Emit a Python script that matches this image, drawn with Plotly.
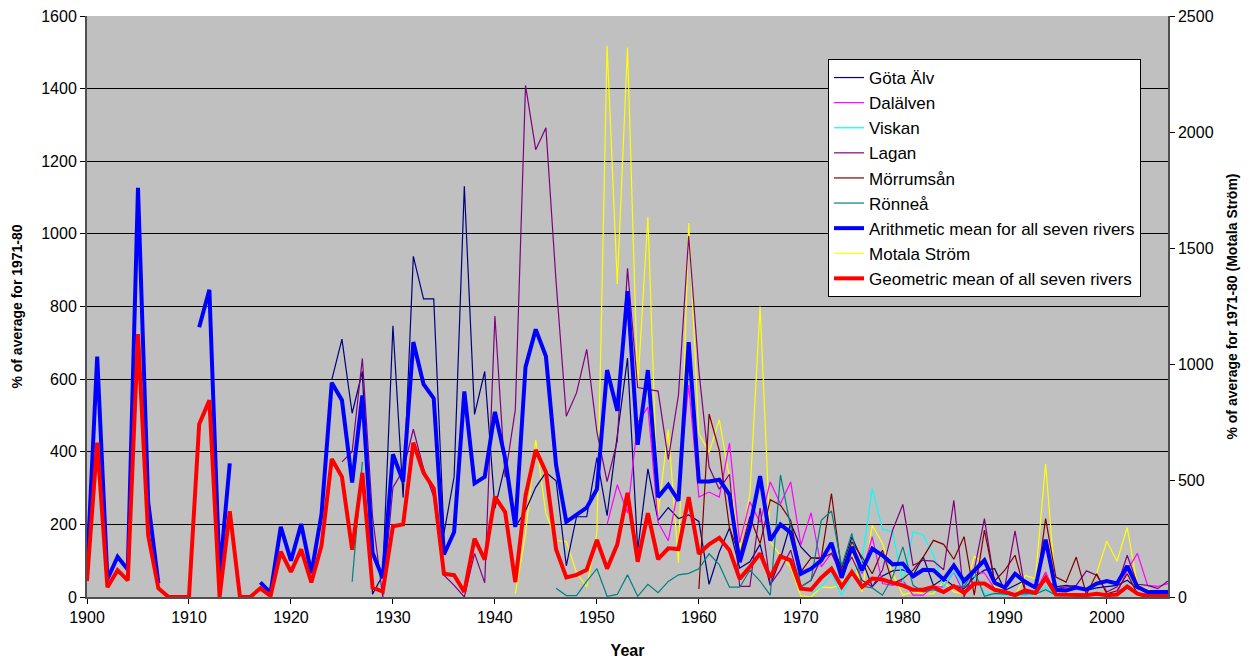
import plotly.graph_objects as go

# Annual runoff-type index, % of the 1971-80 average, 1900-2006
years = list(range(1900, 2007))

arith_mean = [71, 662, 49, 111, 76, 1127, 261, 38, None, None, None, 743, 846, 58, 368, None, None, 40, 11, 193,
              100, 201, 65, 229, 590, 542, 315, 555, 122, 52,
              393, 318, 702, 586, 547, 117, 179, 566, 313, 331,
              510, 382, 193, 633, 737, 663, 363, 207, 226, 246,
              297, 625, 513, 842, 419, 625, 275, 309, 265, 702,
              318, 318, 323, 282, 96, 193, 333, 156, 200, 177,
              64, 78, 101, 149, 53, 138, 74, 133, 115, 90,
              92, 57, 75, 74, 48, 87, 44, 74, 101, 39,
              26, 64, 41, 26, 158, 20, 18, 26, 20, 37,
              44, 37, 85, 28, 14, 14, 14]

geo_mean = [44, 425, 27, 74, 46, 724, 169, 24, 0, 0, 0, 476, 542, 0, 236, 0, 0, 24, 3, 125,
            69, 131, 40, 142, 380, 331, 130, 342, 26, 15,
            195, 200, 425, 342, 299, 64, 60, 14, 161, 103,
            276, 234, 41, 279, 405, 344, 131, 54, 61, 75,
            157, 78, 145, 287, 97, 231, 104, 134, 132, 275,
            119, 145, 163, 129, 50, 83, 120, 53, 112, 101,
            23, 20, 53, 78, 28, 69, 28, 51, 48, 39,
            32, 20, 20, 28, 14, 30, 11, 37, 37, 20,
            14, 5, 18, 11, 53, 7, 7, 7, 5, 9,
            5, 7, 29, 9, 2, 2, 2]

gota_start = 1924
gota = [598, 710, 506, 621, 8, 60,
        747, 274, 938, 821, 821, 175, 331, 1131, 503, 621,
        244, 363, 193, 238, 302, 343, 320, 86, 221, 221,
        384, 224, 445, 658, 129, 353, 211, 246, 216, 226,
        208, 35, 124, 190, 80, 97, 145, 32, 106, 203,
        138, 108, 105, 145, 80, 165, 102, 29, 58, 72,
        75, 60, 110, 32, 51, 30, 23, 55, 74, 78,
        18, 32, 46, 28, 46, 28, 32, 28, 18, 25,
        28, 32, 46, 23, 18, 14, 14]

dal_start = 1951
dal = [200, 309, 231, 480, 523, 206, 155, 300, 584,
       275, 289, 275, 424, 150, 262, 205, 317, 257, 317,
       143, 232, 83, 120, 60, 138, 64, 166, 37, 32,
       46, 5, 5, 28, 28, 69, 9, 69, 66, 23,
       18, 9, 5, 14, 69, 5, 5, 8, 8, 10,
       8, 10, 74, 120, 32, 29, 37]

visk_start = 1971
visk = [10, 28, 62, 5, 60, 100, 299, 187, 180,
        40, 179, 170, 115, 28, 70, 28, 60, 10, 8,
        5, 5, 5, 8, 28, 3, 3, 5, 3, 3,
        3, 5, 23, 8, 5, 5, 8]

lagan_start = 1925
lagan = [372, 400, 657, 221, 0,
         302, 349, 462, 354, 276, 60, 32, 0, 120, 39,
         774, 330, 516, 1409, 1232, 1292, 867, 498, 562, 682,
         455, 318, 430, 905, 577, 572, 567, 379, 557, 994,
         623, 358, 297, 338, 29, 29, 245, 35, 74, 129,
         28, 46, 106, 120, 64, 110, 46, 28, 74, 184,
         255, 87, 101, 99, 75, 266, 0, 74, 216, 37,
         28, 182, 18, 14, 46, 23, 28, 32, 72, 60,
         14, 28, 115, 35, 32, 23, 44]

morr_start = 1960
morr = [22, 504, 404, 190, 114, 221, 147, 268, 253, 211,
        69, 108, 108, 285, 69, 152, 110, 64, 129, 37,
        50, 74, 110, 156, 145, 104, 166, 5, 184, 44,
        74, 115, 14, 9, 216, 55, 41, 110, 7, 64,
        9, 17, 64, 9, 7, 5, 5]

ronn_start = 1926
ronn = [42, 372, None, None,
        None, None, None, None, None, None, None, None, None, None,
        None, None, None, None, None, None, 24, 4, 4, 43,
        78, 2, 7, 61, 2, 35, 12, 43, 61, 65,
        78, 119, 89, 27, 27, 74, 44, 5, 336, 193,
        28, 46, 211, 237, 85, 175, 30, 25, 5, 56,
        138, 32, 14, 20, 10, 32, 28, 74, 2, 10,
        8, 5, 10, 8, 20, 5, 5, 8, 5, 5,
        5, 8, 25, 8, 5, 5, 5]

motala_start = 1942
motala = [14, 270, 676, 360, 243, 239, 105, 43,
          273, 2372, 1347, 2364, 902, 1636, 361, 722, 146, 1609,
          703, 623, 763, 512, 205, 440, 1250, 240, 176, 130,
          5, 0, 43, 40, 54, 194, 22, 309, 230, 101,
          9, 22, 14, 14, 65, 22, 14, 175, 151, 43,
          36, 3, 93, 79, 572, 26, 22, 14, 11, 101,
          240, 154, 299, 50, 32, 22, 17]


def span(start, values):
    return list(range(start, start + len(values))), values


FONT = "Liberation Sans, Arial, sans-serif"
fig = go.Figure()

# Motala Ström sits on the right-hand axis (drawn first, underneath the rest)
mx, my = span(motala_start, motala)
fig.add_trace(go.Scatter(x=mx, y=my, name="Motala Ström", mode="lines",
                         line=dict(color="#FFFF00", width=1.2), yaxis="y",
                         legendrank=8))

thin = [
    ("Göta Älv", gota_start, gota, "#000080", 1),
    ("Dalälven", dal_start, dal, "#FF00FF", 2),
    ("Viskan", visk_start, visk, "#00FFFF", 3),
    ("Lagan", lagan_start, lagan, "#800080", 4),
    ("Mörrumsån", morr_start, morr, "#800000", 5),
    ("Rönneå", ronn_start, ronn, "#008080", 6),
]
for name, start, vals, color, rank in thin:
    xs, ys = span(start, vals)
    fig.add_trace(go.Scatter(x=xs, y=ys, name=name, mode="lines",
                             line=dict(color=color, width=1.2), yaxis="y2",
                             connectgaps=False, legendrank=rank))

fig.add_trace(go.Scatter(x=years, y=arith_mean, name="Arithmetic mean for all seven rivers",
                         mode="lines", line=dict(color="#0000FF", width=4),
                         yaxis="y2", connectgaps=False, legendrank=7))
fig.add_trace(go.Scatter(x=years, y=geo_mean, name="Geometric mean of all seven rivers",
                         mode="lines", line=dict(color="#FF0000", width=4),
                         yaxis="y2", connectgaps=False, legendrank=9))

fig.update_layout(
    width=1250, height=661,
    margin=dict(l=87, r=82, t=16, b=64, pad=0),
    paper_bgcolor="white",
    plot_bgcolor="#C0C0C0",
    font=dict(family=FONT, size=16, color="black"),
    showlegend=True,
    legend=dict(x=0.6855, y=0.926, xanchor="left", yanchor="top",
                bgcolor="white", bordercolor="black", borderwidth=1,
                font=dict(family=FONT, size=17, color="black"),
                traceorder="normal"),
    xaxis=dict(range=[1900, 2006], tick0=1900, dtick=10, ticks="outside",
               ticklen=5, tickcolor="black", showgrid=False, zeroline=False,
               showline=True, linecolor="#505050", linewidth=2,
               tickfont=dict(size=16), automargin=False,
               title=dict(text="<b>Year</b>", font=dict(size=16), standoff=20)),
    yaxis=dict(range=[0, 2500], dtick=500, side="right", ticks="outside",
               ticklen=5, tickcolor="black", showgrid=False, zeroline=False,
               showline=True, linecolor="#505050", linewidth=1.5,
               tickfont=dict(size=16), automargin=False,
               title=dict(text="<b>% of average for 1971-80 (Motala Ström)</b>",
                          font=dict(size=14))),
    yaxis2=dict(range=[0, 1600], dtick=200, side="left", overlaying="y",
                ticks="outside", ticklen=5, tickcolor="black",
                showgrid=True, gridcolor="black", gridwidth=1, zeroline=False,
                showline=True, linecolor="#505050", linewidth=2,
                tickfont=dict(size=16), automargin=False,
                title=dict(text="<b>% of average for 1971-80</b>",
                           font=dict(size=14))),
)

fig.write_html("out.html")
